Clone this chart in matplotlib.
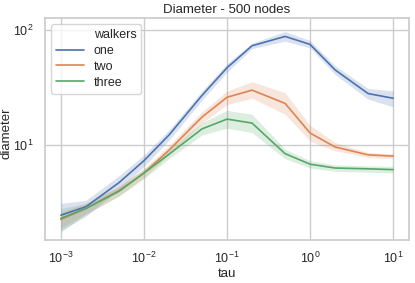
import matplotlib
matplotlib.use('Agg')
import matplotlib.pyplot as plt
import seaborn as sns
import numpy as np

sns.set_theme(style='whitegrid')
plt.rcParams['font.family'] = ['Liberation Sans', 'DejaVu Sans']

tau = [0.001, 0.002, 0.005, 0.01, 0.02, 0.05, 0.1, 0.2, 0.5, 1, 2, 5, 10]

one = [2.45, 2.9, 4.7, 7.3, 12.2, 27, 47, 73, 88, 75, 45, 28, 25.5]
one_lo = [1.8, 2.4, 4.1, 6.5, 11.0, 24.5, 43, 69, 80, 70, 41, 25, 21.5]
one_hi = [3.1, 3.3, 5.4, 8.2, 13.5, 29.5, 51, 77, 97, 81, 49, 31, 29.5]

two = [2.25, 2.8, 4.0, 5.7, 9.0, 17.5, 26, 30, 23, 12.7, 9.6, 8.2, 8.0]
two_lo = [1.9, 2.5, 3.6, 5.2, 8.2, 15.5, 22.5, 25.5, 18.5, 10.8, 8.9, 7.8, 7.6]
two_hi = [2.6, 3.1, 4.4, 6.2, 9.9, 19.5, 29.5, 35.5, 28.5, 14.8, 10.5, 8.6, 8.4]

three = [2.3, 2.8, 3.95, 5.7, 8.3, 13.8, 16.8, 15.5, 8.4, 6.8, 6.3, 6.2, 6.1]
three_lo = [1.75, 2.5, 3.6, 5.1, 7.6, 12.2, 14.0, 12.8, 7.6, 6.3, 5.9, 5.8, 5.7]
three_hi = [2.8, 3.1, 4.3, 6.2, 9.1, 15.6, 20.0, 18.5, 9.2, 7.3, 6.7, 6.6, 6.5]

names = ['one', 'two', 'three']
colors = ['#4c72b0', '#dd8452', '#55a868']

fig = plt.figure(figsize=(4.15, 2.83), dpi=100)
ax = fig.add_axes([0.108, 0.152, 0.878, 0.784])

handles = []
for name, mean, lo, hi, c in [('one', one, one_lo, one_hi, colors[0]),
                              ('two', two, two_lo, two_hi, colors[1]),
                              ('three', three, three_lo, three_hi, colors[2])]:
    ax.fill_between(tau, lo, hi, color=c, alpha=0.2, linewidth=0)
    line, = ax.plot(tau, mean, color=c, linewidth=1.2, label=name)
    handles.append(line)

ax.set_xscale('log')
ax.set_yscale('log')
ax.set_xlim(6.4e-4, 15.6)
ax.set_ylim(1.49, 127)
ax.set_xticks([1e-3, 1e-2, 1e-1, 1, 10])
ax.set_yticks([10, 100])
ax.minorticks_off()
ax.tick_params(labelsize=9, pad=2)

ax.set_title('Diameter - 500 nodes', fontsize=9.5, pad=4)
ax.set_xlabel('tau', fontsize=9.5, labelpad=1)
ax.set_ylabel('diameter', fontsize=9.5)
ax.yaxis.set_label_coords(-0.09, 0.48)

blank = plt.Line2D([], [], color='none')
ax.legend([blank] + handles, ['walkers'] + names, loc='upper left',
          fontsize=9, handlelength=2.2, borderpad=0.4, labelspacing=0.3,
          frameon=True)

fig.savefig('out.png', dpi=100)
